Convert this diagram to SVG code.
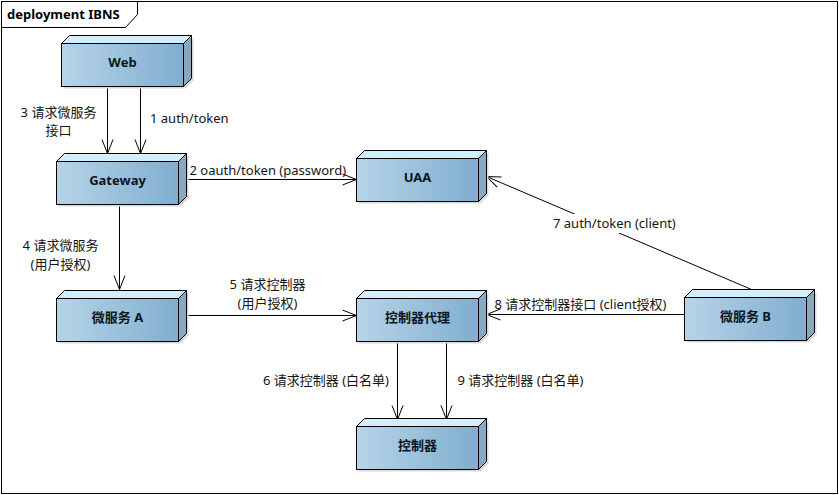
<svg xmlns="http://www.w3.org/2000/svg" width="839" height="495" viewBox="0 0 839 495">
<defs>
<linearGradient id="front" x1="0" y1="0" x2="1" y2="0">
<stop offset="0" stop-color="#b6d4e8"/>
<stop offset="1" stop-color="#80aecf"/>
</linearGradient>
<marker id="arr" markerUnits="userSpaceOnUse" markerWidth="20" markerHeight="16" viewBox="-15 -8 16 16" refX="0" refY="0" orient="auto">
<path d="M-14,-5.5 L0,0 L-14,5.5" fill="none" stroke="#000" stroke-width="1"/>
</marker>
<g id="box">
<polygon points="2,2 124,2 132,-6 132,37 124,45 2,45" fill="#d9d9d9"/>
<polygon points="0,0 8,-8 130,-8 122,0" fill="#d3eefb" stroke="#000" stroke-width="1"/>
<polygon points="122,0 130,-8 130,35 122,43" fill="#88a8bd" stroke="#000" stroke-width="1"/>
<rect x="0" y="0" width="122" height="43" fill="url(#front)" stroke="#000" stroke-width="1"/>
</g>
</defs>
<style>
.t{font-family:"Noto Sans","Noto Sans CJK SC",sans-serif;font-size:13px;font-weight:bold;fill:#0d1520;text-anchor:middle}
.l{font-family:"Noto Sans","Noto Sans CJK SC",sans-serif;font-size:13px;fill:#141414}
.c{text-anchor:middle}
.e{text-anchor:end}
.ln{stroke:#000;stroke-width:1;fill:none}
</style>
<rect x="0" y="0" width="839" height="495" fill="#fff"/>
<g id="frame">
<rect x="1.5" y="1.5" width="836" height="492" fill="none" stroke="#000" stroke-width="1"/>
<path d="M1.5,27.5 H125.5 L137.5,14.5 V1.5" fill="none" stroke="#000" stroke-width="1"/>
<text x="7" y="19" style="font-family:'Noto Sans','Noto Sans CJK SC',sans-serif;font-size:13px;font-weight:bold;fill:#000">deployment IBNS</text>
</g>
<g id="connectors">
<line class="ln" x1="107.5" y1="86.5" x2="107.5" y2="153.5" marker-end="url(#arr)"/>
<line class="ln" x1="140.5" y1="86.5" x2="140.5" y2="153.5" marker-end="url(#arr)"/>
<line class="ln" x1="186.5" y1="179.5" x2="356.5" y2="179.5" marker-end="url(#arr)"/>
<line class="ln" x1="119.5" y1="204.5" x2="119.5" y2="289.5" marker-end="url(#arr)"/>
<line class="ln" x1="186.5" y1="315.5" x2="356.5" y2="315.5" marker-end="url(#arr)"/>
<line class="ln" x1="684.5" y1="314.5" x2="486.5" y2="314.5" marker-end="url(#arr)"/>
<line class="ln" x1="397.5" y1="341.5" x2="397.5" y2="419.5" marker-end="url(#arr)"/>
<line class="ln" x1="446.5" y1="341.5" x2="446.5" y2="419.5" marker-end="url(#arr)"/>
<line class="ln" x1="751.5" y1="289.5" x2="486.5" y2="176.5" marker-end="url(#arr)"/>
<rect x="551" y="214" width="130" height="19" fill="#fff"/>
<text class="l c" x="58.5" y="117">3 请求微服务</text>
<text class="l c" x="58.5" y="135">接口</text>
<text class="l" x="150" y="123">1 auth/token</text>
<text class="l" x="189.5" y="175">2 oauth/token (password)</text>
<text class="l c" x="60.5" y="250">4 请求微服务</text>
<text class="l c" x="60.5" y="269">(用户授权)</text>
<text class="l c" x="267.5" y="289">5 请求控制器</text>
<text class="l c" x="267.5" y="308">(用户授权)</text>
<text class="l" x="494.5" y="309">8 请求控制器接口 (client授权)</text>
<text class="l" x="553" y="228">7 auth/token (client)</text>
<text class="l e" x="389" y="385">6 请求控制器 (白名单)</text>
<text class="l" x="457.5" y="385">9 请求控制器 (白名单)</text>
</g>
<g id="web">
<use href="#box" x="61.5" y="43.5"/>
<text class="t" x="122.5" y="67">Web</text>
</g>
<g id="gateway">
<use href="#box" x="56.5" y="161.5"/>
<text class="t" x="117.5" y="185">Gateway</text>
</g>
<g id="uaa">
<use href="#box" x="356.5" y="158.5"/>
<text class="t" x="417.5" y="182">UAA</text>
</g>
<g id="msa">
<use href="#box" x="56.5" y="298.5"/>
<text class="t" x="117.5" y="322">微服务 A</text>
</g>
<g id="proxy">
<use href="#box" x="356.5" y="298.5"/>
<text class="t" x="417.5" y="322">控制器代理</text>
</g>
<g id="msb">
<use href="#box" x="684.5" y="297.5"/>
<text class="t" x="745.5" y="321">微服务 B</text>
</g>
<g id="controller">
<use href="#box" x="356.5" y="426.5"/>
<text class="t" x="417.5" y="450">控制器</text>
</g>
</svg>
